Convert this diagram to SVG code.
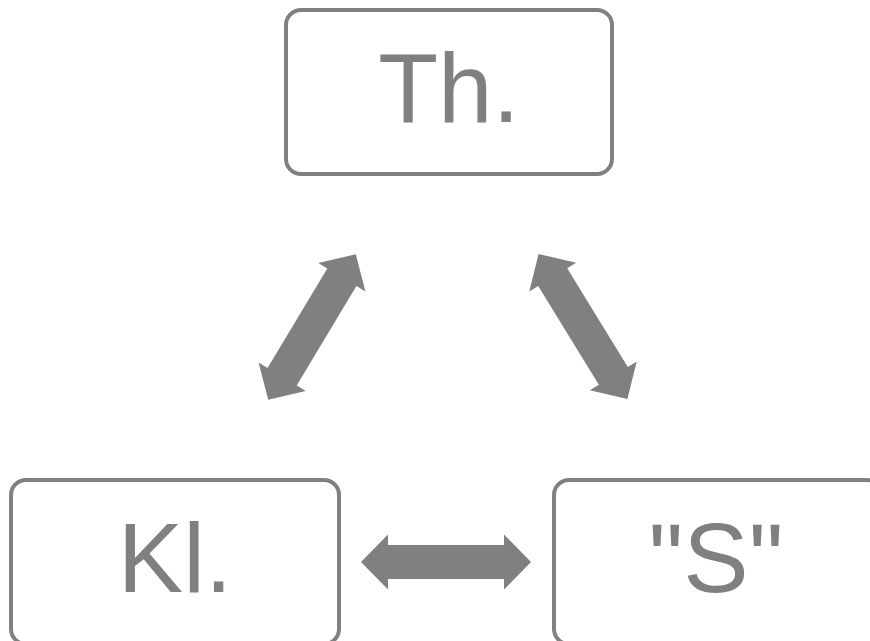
<svg xmlns="http://www.w3.org/2000/svg" xmlns:xlink="http://www.w3.org/1999/xlink" width="870" height="641" viewBox="0 0 870 641">
  <style>
    .box { fill: #ffffff; stroke: #808080; stroke-width: 4; }
    .label { font-family: "Liberation Sans", Arial, sans-serif; font-size: 98px; fill: #808080; text-anchor: middle; }
    .arrow { fill: #808080; }
  </style>
  <defs>
    <path id="dblArrow" d="M -85 0 L -58 -27.5 L -58 -17 L 58 -17 L 58 -27.5 L 85 0 L 58 27.5 L 58 17 L -58 17 L -58 27.5 Z"/>
  </defs>
  <rect x="0" y="0" width="870" height="641" fill="#ffffff"/>
  <g id="connectors">
    <use xlink:href="#dblArrow" class="arrow" transform="translate(312 327) rotate(-59)"/>
    <use xlink:href="#dblArrow" class="arrow" transform="translate(583 326.5) rotate(58.5)"/>
    <use xlink:href="#dblArrow" class="arrow" transform="translate(446 562)"/>
  </g>
  <g id="node-th">
    <rect class="box" x="286" y="10" width="326" height="164" rx="15" ry="15"/>
    <text class="label" x="449" y="122">Th.</text>
  </g>
  <g id="node-kl">
    <rect class="box" x="11" y="480" width="328" height="164" rx="15" ry="15"/>
    <text class="label" x="175" y="592">Kl.</text>
  </g>
  <g id="node-s">
    <rect class="box" x="554" y="480" width="328" height="164" rx="15" ry="15"/>
    <text class="label" x="716" y="592">"S"</text>
  </g>
</svg>
